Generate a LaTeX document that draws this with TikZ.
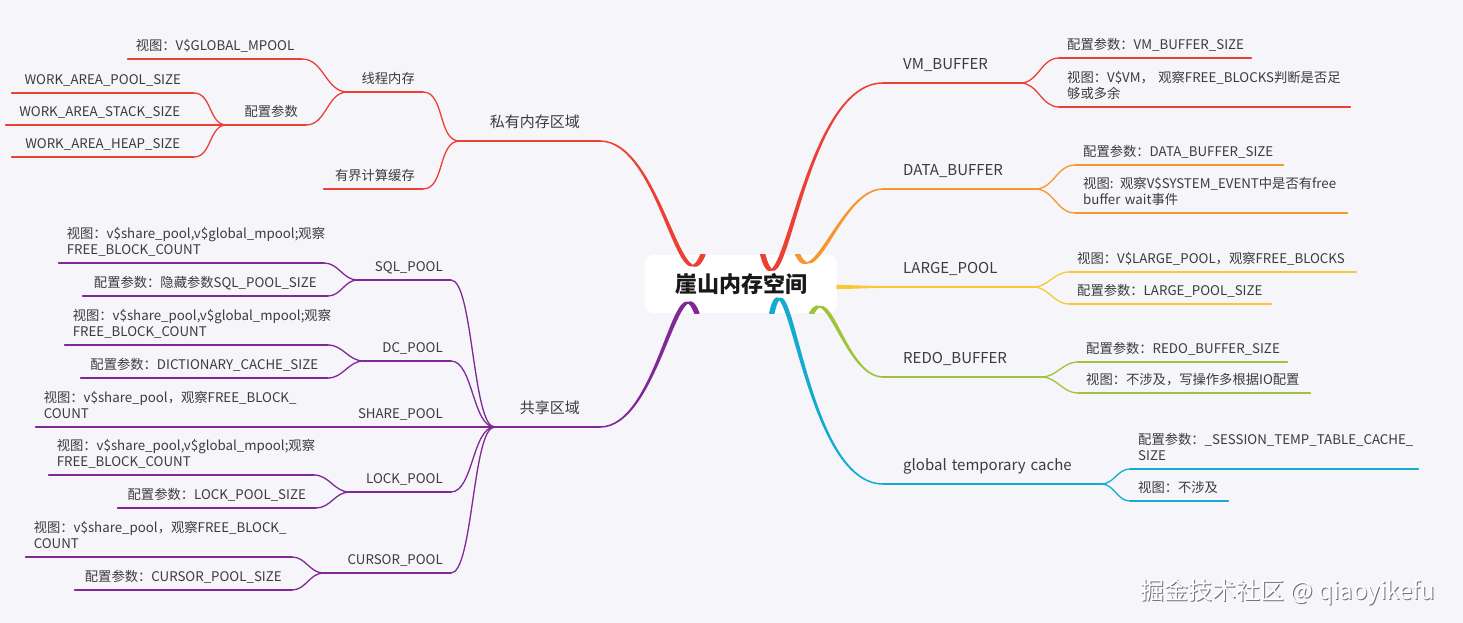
\documentclass[tikz,border=0pt]{standalone}
\usepackage{fontspec}
\setmainfont{Noto Sans CJK SC}
\definecolor{bgc}{RGB}{245,245,250}
\definecolor{txt}{RGB}{60,60,60}
\definecolor{cred}{RGB}{236,64,52}
\definecolor{corange}{RGB}{247,150,45}
\definecolor{cyellow}{RGB}{250,200,55}
\definecolor{cgreen}{RGB}{160,195,60}
\definecolor{ccyan}{RGB}{22,170,208}
\definecolor{cpurple}{RGB}{128,40,150}
\tikzset{
  thinl/.style={line width=1.3pt, line cap=round},
  thickl/.style={line width=2pt, line cap=round},
  lnk/.style={thinl, out=0, in=180, max distance=22pt},
  br/.style={line width=1.5pt, line join=round},
  base/.style={text=txt, text height=10pt, text depth=3.5pt},
  two/.style={align=left, text depth=20pt},
  leaf/.style={base, font=\fontsize{13.3}{16.5}\selectfont, inner xsep=8pt, inner ysep=4.5pt, align=center,
    append after command={(\tikzlastnode.south west) edge[thinl, #1] (\tikzlastnode.south east)}},
  lleaf/.style={leaf=#1, anchor=south east},
  lmid/.style={leaf=#1, anchor=south east, align=right},
  rleaf/.style={leaf=#1, anchor=south west, align=left},
  main/.style={base, font=\fontsize{15}{18}\selectfont, inner xsep=20pt, inner ysep=10pt,
    append after command={(\tikzlastnode.south west) edge[thickl, #1] (\tikzlastnode.south east)}},
  lmain/.style={main=#1, anchor=south east, align=right},
  rmain/.style={main=#1, anchor=south west, align=left},
  root/.style={fill=white, rounded corners=8pt, minimum width=192pt, minimum height=58pt, inner sep=0pt,
    font=\fontsize{22}{26}\selectfont\bfseries, text=black!90},
  wmk/.style={font=\fontsize{24}{28}\selectfont}
}
\begin{document}
\begin{tikzpicture}[x=1pt, y=-1pt]
\fill[bgc] (0,0) rectangle (1463,623);
\node[root] (root) at (741,284) {崖山内存空间};
\coordinate (rl) at ([xshift=58pt]root.north west);
\coordinate (rr) at ([xshift=118pt]root.north west);
\coordinate (ro) at ([xshift=153pt]root.north west);
\coordinate (ry) at ([yshift=-3pt]root.east);
\coordinate (rg) at ([xshift=167pt]root.south west);
\coordinate (rc) at ([xshift=127pt]root.south west);
\coordinate (rp) at ([xshift=52pt]root.south west);

% private area
\node[lmain=cred, text width=100pt] (pv) at (600,141) {私有内存区域};
\node[lmid=cred, text width=59pt] (xc) at (423,92) {线程内存};
\node[lmid=cred, text width=83pt] (bj) at (423,189) {有界计算缓存};
\node[lmid=cred, text width=63pt] (pz) at (306,125) {配置参数};
\node[lleaf=cred, text width=158pt] (gm) at (302,59) {视图：V\$GLOBAL\_MPOOL};
\node[lleaf=cred, text width=166pt] (wp) at (194,93) {WORK\_AREA\_POOL\_SIZE};
\node[lleaf=cred, text width=172pt] (ws) at (194,125) {WORK\_AREA\_STACK\_SIZE};
\node[lleaf=cred, text width=166pt] (wh) at (194,157) {WORK\_AREA\_HEAP\_SIZE};
\draw[lnk, cred] (gm.south east) to (xc.south west);
\draw[lnk, cred] (pz.south east) to (xc.south west);
\draw[lnk, cred] (wp.south east) to (pz.south west);
\draw[lnk, cred] (ws.south east) to (pz.south west);
\draw[lnk, cred] (wh.south east) to (pz.south west);
\draw[lnk, cred] (xc.south east) to (pv.south west);
\draw[lnk, cred] (bj.south east) to (pv.south west);

% shared area
\node[lmain=cpurple, text width=65pt] (sh) at (600,427) {共享区域};
\node[lmid=cpurple, text width=77pt] (sql) at (451,280) {SQL\_POOL};
\node[lmid=cpurple, text width=71pt] (dc) at (451,361) {DC\_POOL};
\node[lmid=cpurple, text width=88pt] (spl) at (451,427) {SHARE\_POOL};
\node[lmid=cpurple, text width=85pt] (lk) at (451,492) {LOCK\_POOL};
\node[lmid=cpurple, text width=111pt] (cr) at (451,573) {CURSOR\_POOL};
\node[lleaf=cpurple, two, text width=249pt] (sqlv) at (324,263) {视图：v\$share\_pool,v\$global\_mpool;观察\\FREE\_BLOCK\_COUNT};
\node[lleaf=cpurple, text width=229pt] (sqlc) at (328,296) {配置参数：隐藏参数SQL\_POOL\_SIZE};
\node[lleaf=cpurple, two, text width=247pt] (dcv) at (328,345) {视图：v\$share\_pool,v\$global\_mpool;观察\\FREE\_BLOCK\_COUNT};
\node[lleaf=cpurple, text width=231pt] (dcc) at (328,378) {配置参数：DICTIONARY\_CACHE\_SIZE};
\node[lleaf=cpurple, two, text width=248pt] (spv) at (300,427) {视图：v\$share\_pool，观察FREE\_BLOCK\_\\COUNT};
\node[lleaf=cpurple, two, text width=249pt] (lkv) at (314,475) {视图：v\$share\_pool,v\$global\_mpool;观察\\FREE\_BLOCK\_COUNT};
\node[lleaf=cpurple, text width=182pt] (lkc) at (316,508) {配置参数：LOCK\_POOL\_SIZE};
\node[lleaf=cpurple, two, text width=250pt] (crv) at (292,557) {视图：v\$share\_pool，观察FREE\_BLOCK\_\\COUNT};
\node[lleaf=cpurple, text width=201pt] (crc) at (292,590) {配置参数：CURSOR\_POOL\_SIZE};
\draw[lnk, cpurple] (sqlv.south east) to (sql.south west);
\draw[lnk, cpurple] (sqlc.south east) to (sql.south west);
\draw[lnk, cpurple] (dcv.south east) to (dc.south west);
\draw[lnk, cpurple] (dcc.south east) to (dc.south west);
\draw[lnk, cpurple] (spv.south east) to (spl.south west);
\draw[lnk, cpurple] (lkv.south east) to (lk.south west);
\draw[lnk, cpurple] (lkc.south east) to (lk.south west);
\draw[lnk, cpurple] (crv.south east) to (cr.south west);
\draw[lnk, cpurple] (crc.south east) to (cr.south west);
\foreach \n in {sql,dc,spl,lk,cr}
  \draw[lnk, cpurple] (\n.south east) to (sh.south west);

% right side
\node[rmain=cred, text width=97pt] (vm) at (883,83) {VM\_BUFFER};
\node[rleaf=cred, text width=176pt] (vmc) at (1059,58) {配置参数：VM\_BUFFER\_SIZE};
\node[rleaf=cred, two, text width=275pt] (vmv) at (1059,107) {视图：V\$VM， 观察FREE\_BLOCKS判断是否足\\够或多余};
\node[rmain=corange, text width=112pt] (dbuf) at (883,189) {DATA\_BUFFER};
\node[rleaf=corange, text width=192pt] (dbc) at (1075,165) {配置参数：DATA\_BUFFER\_SIZE};
\node[rleaf=corange, two, text width=256pt] (dbv) at (1075,213) {视图: 观察V\$SYSTEM\_EVENT中是否有free\\buffer wait事件};
\node[rmain=cyellow, text width=110pt] (lpool) at (883,287) {LARGE\_POOL};
\node[rleaf=cyellow, text width=271pt] (lpv) at (1069,272) {视图：V\$LARGE\_POOL，观察FREE\_BLOCKS};
\node[rleaf=cyellow, text width=186pt] (lpc) at (1069,304) {配置参数：LARGE\_POOL\_SIZE};
\node[rmain=cgreen, text width=118pt] (redo) at (883,377) {REDO\_BUFFER};
\node[rleaf=cgreen, text width=193pt] (rdc) at (1078,362) {配置参数：REDO\_BUFFER\_SIZE};
\node[rleaf=cgreen, text width=216pt] (rdv) at (1078,393) {视图：不涉及，写操作多根据IO配置};
\node[rmain=ccyan, text width=178pt] (gtc) at (883,484) {global temporary cache};
\node[rleaf=ccyan, two, text width=272pt] (gtcc) at (1130,469) {配置参数：\_SESSION\_TEMP\_TABLE\_CACHE\_\\SIZE};
\node[rleaf=ccyan, text width=82pt] (gtcv) at (1130,501) {视图：不涉及};
\draw[lnk, cred] (vm.south east) to (vmc.south west);
\draw[lnk, cred] (vm.south east) to (vmv.south west);
\draw[lnk, corange] (dbuf.south east) to (dbc.south west);
\draw[lnk, corange] (dbuf.south east) to (dbv.south west);
\draw[lnk, cyellow] (lpool.south east) to (lpv.south west);
\draw[lnk, cyellow] (lpool.south east) to (lpc.south west);
\draw[lnk, cgreen] (redo.south east) to (rdc.south west);
\draw[lnk, cgreen] (redo.south east) to (rdv.south west);
\draw[lnk, ccyan] (gtc.south east) to (gtcc.south west);
\draw[lnk, ccyan] (gtc.south east) to (gtcv.south west);

% main branches
\filldraw[cred, br] (pv.south east) to[out=0,in=-112] ([xshift=-2pt]rl) -- ([xshift=2pt]rl) to[out=-112,in=0] (pv.south east);
\filldraw[cpurple, br] (sh.south east) to[out=0,in=110] ([xshift=-2pt]rp) -- ([xshift=2pt]rp) to[out=110,in=0] (sh.south east);
\filldraw[cred, br] (vm.south west) to[out=180,in=-75] ([xshift=-2pt]rr) -- ([xshift=2pt]rr) to[out=-75,in=180] (vm.south west);
\filldraw[corange, br] (dbuf.south west) to[out=180,in=-65] ([xshift=-2pt]ro) -- ([xshift=2pt]ro) to[out=-65,in=180] (dbuf.south west);
\filldraw[cyellow, br] (lpool.south west) -- ([yshift=1.5pt]ry) -- ([yshift=-1.5pt]ry) -- cycle;
\filldraw[cgreen, br] (redo.south west) to[out=180,in=63] ([xshift=-2pt]rg) -- ([xshift=2pt]rg) to[out=63,in=180] (redo.south west);
\filldraw[ccyan, br] (gtc.south west) to[out=180,in=77] ([xshift=-2pt]rc) -- ([xshift=2pt]rc) to[out=77,in=180] (gtc.south west);

\node[wmk, text=black!55] (wmks) at (1289,593) {掘金技术社区 @ qiaoyikefu};
\node[wmk, text=white] (wmkt) at (1288,592) {掘金技术社区 @ qiaoyikefu};
\end{tikzpicture}
\end{document}
